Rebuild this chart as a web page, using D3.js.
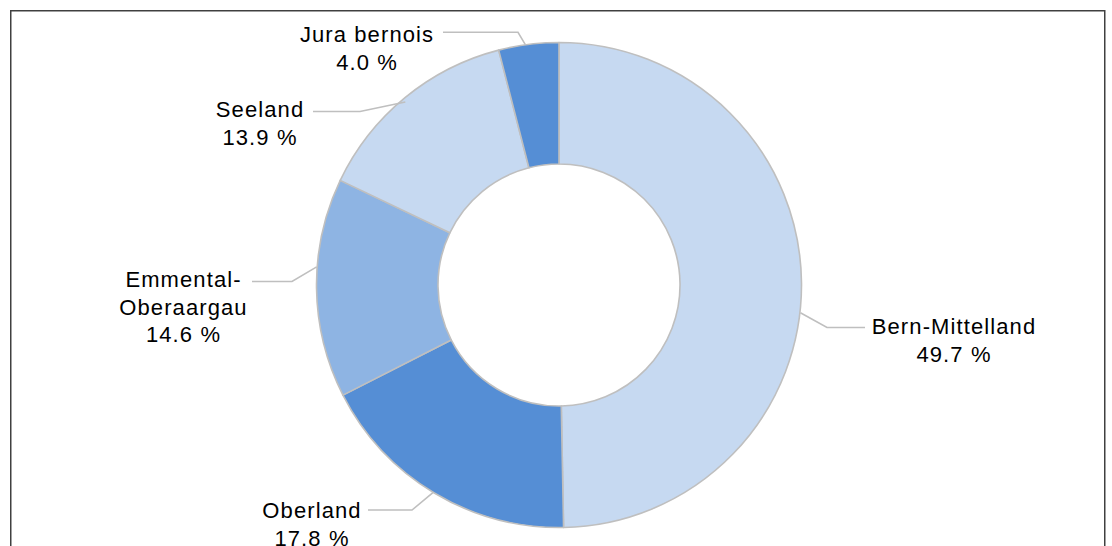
<!DOCTYPE html>
<html>
<head>
<meta charset="utf-8">
<script src="https://cdn.jsdelivr.net/npm/d3@7"></script>
<style>
  html, body { margin: 0; padding: 0; background: #ffffff; }
  svg { display: block; }
</style>
</head>
<body>
<script>
// ---- data ----
const regions = ["Bern-Mittelland", "Oberland", "Emmental-\nOberaargau", "Seeland", "Jura bernois"];
const shares = [49.7, 17.8, 14.6, 13.9, 4.0];
const sliceColors = ["#c6d9f1", "#558ed5", "#8eb4e3", "#c6d9f1", "#558ed5"];

// ---- layout (label placement, relative to chart centre) ----
// leader start angle offset (deg, from slice mid), elbow dx/dy, leader end dx, text centre dx, first baseline dy
const labelLayout = [
  { angOff: 7.1,  r: 243, elbow: [268, 42.5],  endX: 306,  textX: 395,   base: 49 },
  { angOff: 0.3,  r: 243, elbow: [-147, 225],  endX: -191, textX: -247,  base: 233 },
  { angOff: 5.0,  r: 243, elbow: [-267, -3.5], endX: -307, textX: -375.5, base: 1.7 },
  { angOff: -0.6, r: 239, elbow: [-199, -173.5], endX: -246, textX: -299, base: -168.3 },
  { angOff: -0.8, r: 243, elbow: [-41, -252.7], endX: -116, textX: -192, base: -243.3 }
];

const W = 1112, H = 546;
const cx = 559, cy = 285;
const outerR = 242.5, innerR = 121;
const lineH = 27.8;

const svg = d3.select("body").append("svg").attr("width", W).attr("height", H);

// frame
svg.append("rect")
  .attr("x", 10.75).attr("y", 10.75)
  .attr("width", 1094).attr("height", 600)
  .attr("fill", "none").attr("stroke", "#404040").attr("stroke-width", 1.5);

const pie = d3.pie().sort(null).value(d => d.v);
const data = regions.map((r, i) => ({ name: r, v: shares[i], color: sliceColors[i], lay: labelLayout[i] }));
const arcs = pie(data);
const arc = d3.arc().innerRadius(innerR).outerRadius(outerR);

const g = svg.append("g").attr("transform", `translate(${cx},${cy})`);

g.selectAll("path.slice").data(arcs).enter().append("path")
  .attr("class", "slice")
  .attr("d", arc)
  .attr("fill", d => d.data.color)
  .attr("stroke", "#bfbfbf")
  .attr("stroke-width", 1.6)
  .attr("stroke-linejoin", "round");

// leader lines
g.selectAll("polyline.leader").data(arcs).enter().append("polyline")
  .attr("class", "leader")
  .attr("points", d => {
    const L = d.data.lay;
    const a = (d.startAngle + d.endAngle) / 2 + L.angOff * Math.PI / 180;
    const sx = L.r * Math.sin(a), sy = -L.r * Math.cos(a);
    return [[sx, sy], L.elbow, [L.endX, L.elbow[1]]].map(p => p.join(",")).join(" ");
  })
  .attr("fill", "none")
  .attr("stroke", "#bfbfbf")
  .attr("stroke-width", 1.6);

// labels
const fmt = v => v.toFixed(1) + " %";
const labels = g.selectAll("text.lbl").data(arcs).enter().append("text")
  .attr("class", "lbl")
  .attr("text-anchor", "middle")
  .attr("font-family", "'Liberation Sans', Arial, sans-serif")
  .attr("font-size", 22)
  .attr("letter-spacing", 1.1)
  .attr("fill", "#000000");

labels.each(function(d) {
  const L = d.data.lay;
  const lines = d.data.name.split("\n").concat([fmt(d.data.v)]);
  const t = d3.select(this);
  lines.forEach((ln, i) => {
    t.append("tspan").attr("x", L.textX).attr("y", L.base + i * lineH).text(ln);
  });
});
</script>
</body>
</html>
